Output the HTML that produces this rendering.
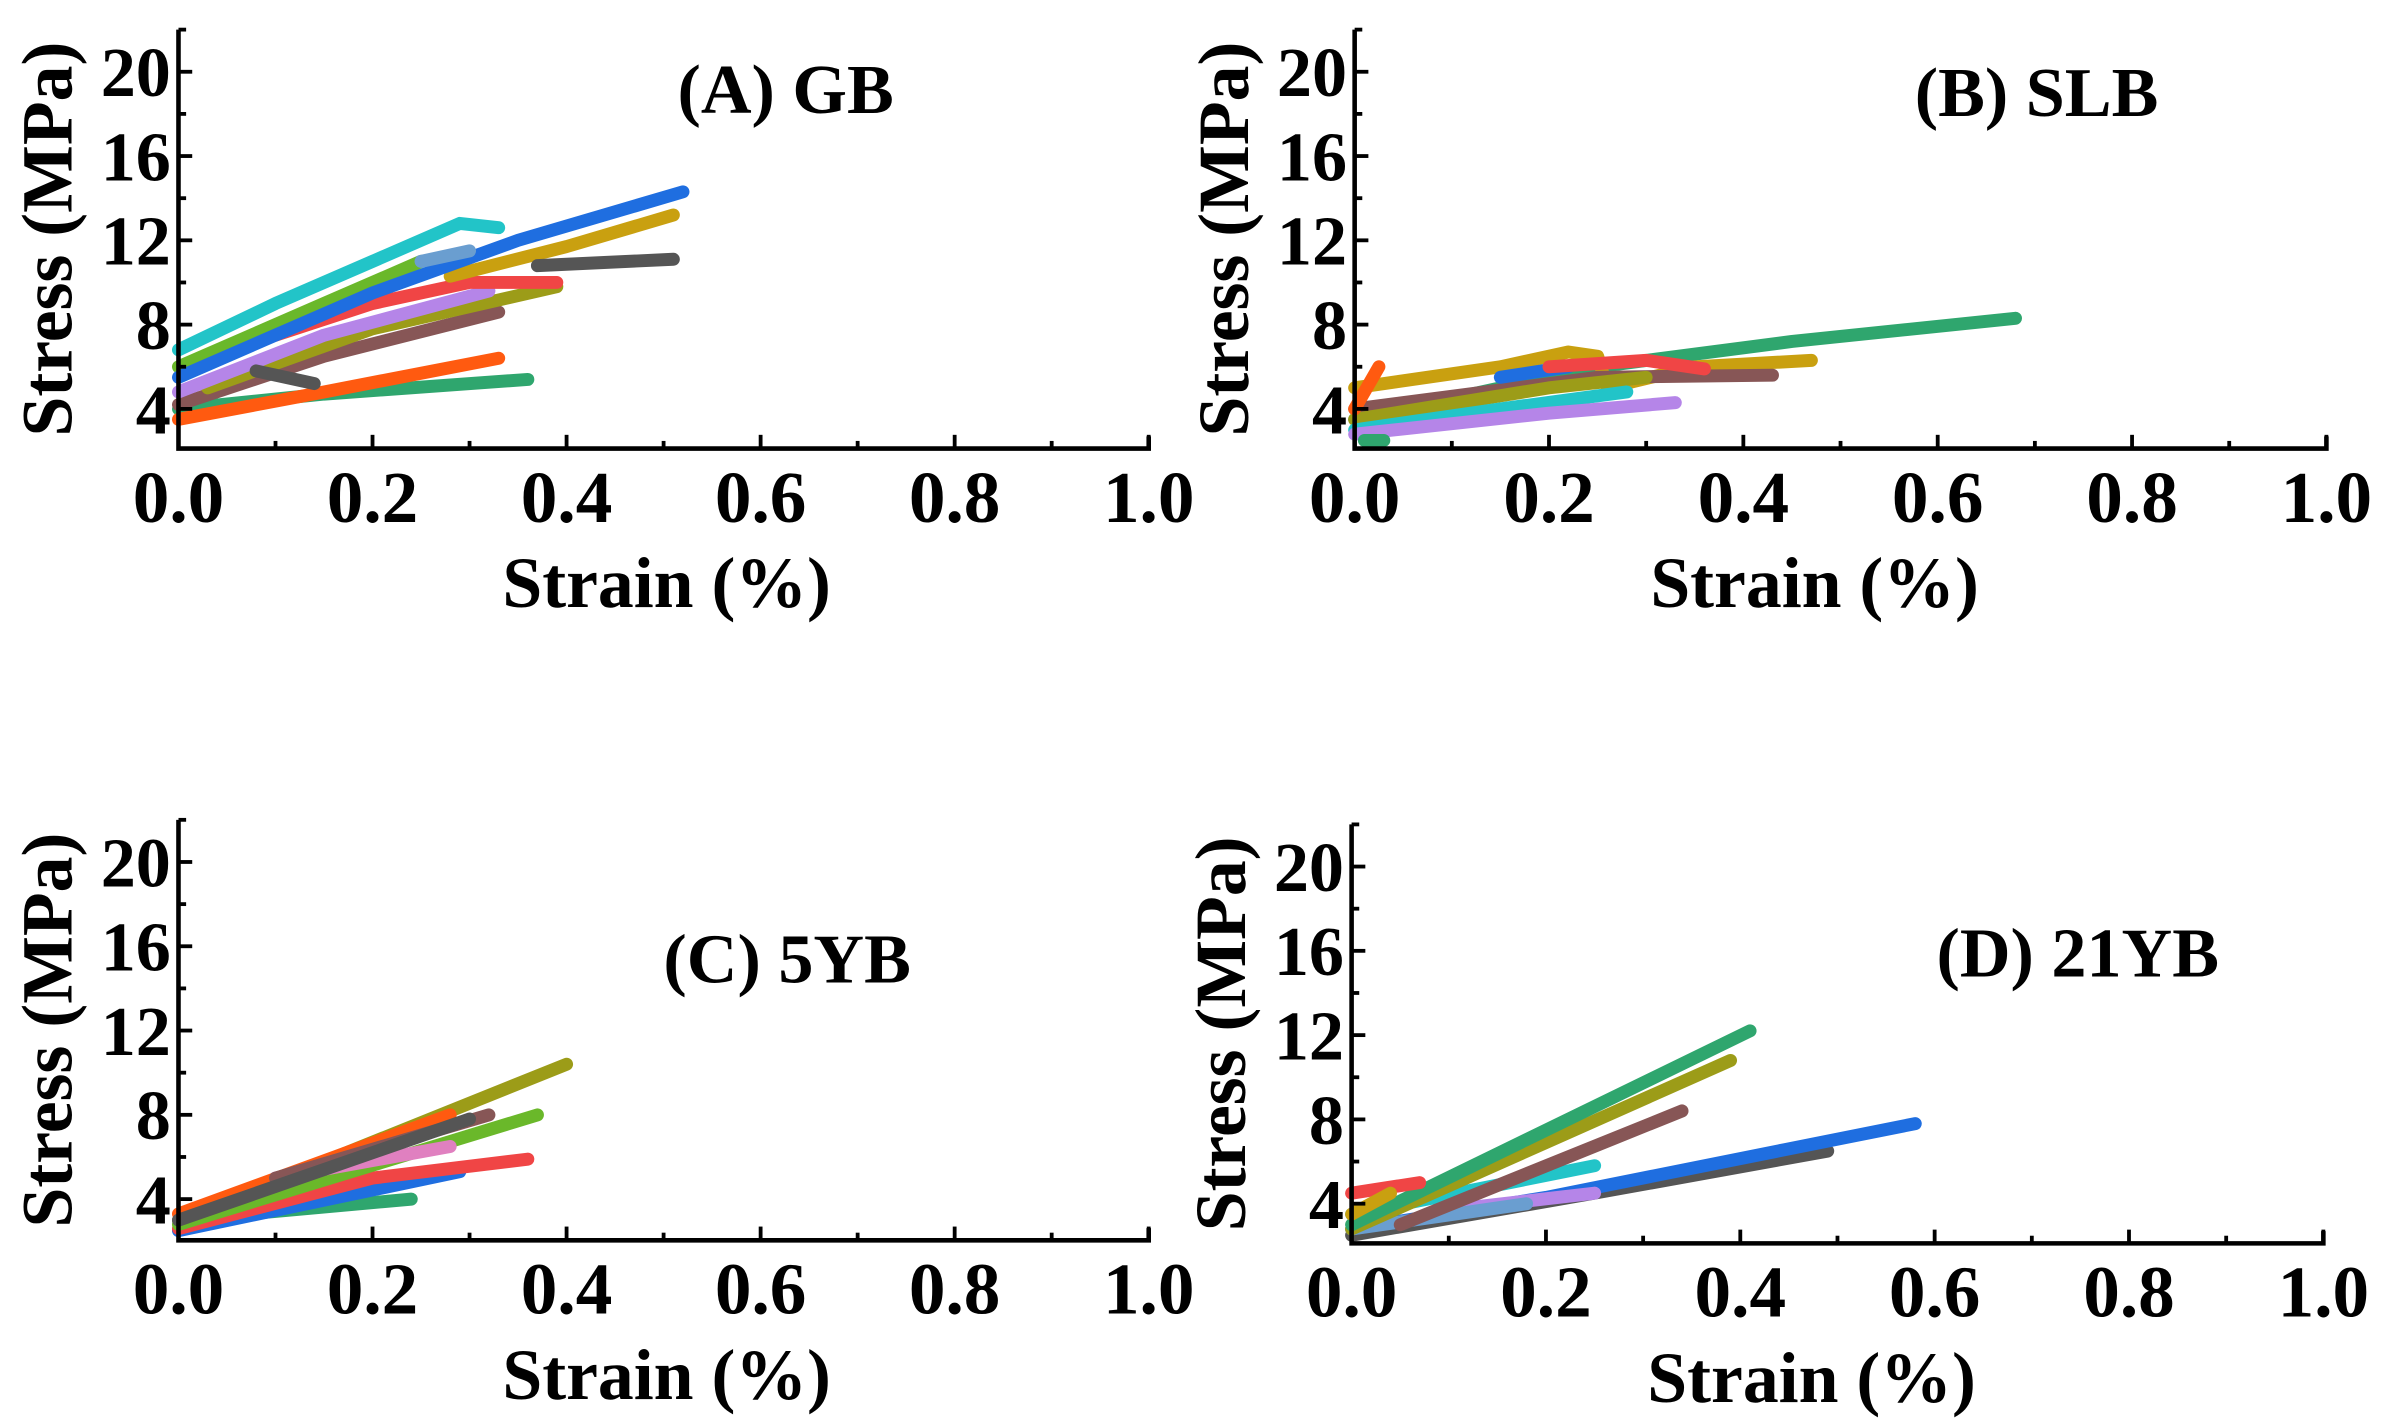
<!DOCTYPE html>
<html><head><meta charset="utf-8"><style>
html,body{margin:0;padding:0;background:#fff;}
svg{display:block;}
text{font-family:"Liberation Serif",serif;font-weight:bold;fill:#000;}
</style></head><body>
<svg id="fig" width="2392" height="1428" viewBox="0 0 1568 936" xmlns="http://www.w3.org/2000/svg"></svg>
<script>
const xTicks = [0.0, 0.2, 0.4, 0.6, 0.8, 1.0];
const xTickLabels = ["0.0", "0.2", "0.4", "0.6", "0.8", "1.0"];
const yTicks = [4, 8, 12, 16, 20];
const yTickLabels = ["4", "8", "12", "16", "20"];
const panelTitles = ["(A) GB", "(B) SLB", "(C) 5YB", "(D) 21YB"];
const seriesColors = {cyan:"#22c4c8", lime:"#6ab82a", blue:"#1f6ee0", lblue:"#6a9ed0", gold:"#c9a010", gray:"#555555", red:"#f04545", purple:"#b585e8", olive:"#9c9c18", brown:"#875656", orange:"#ff5a10", sea:"#2fa66e", pink:"#e080c0"};

const seriesA = [
 ["sea",[[0,4],[0.15,4.7],[0.36,5.4]]],
 ["orange",[[0,3.5],[0.15,4.8],[0.33,6.4]]],
 ["brown",[[0,4.2],[0.15,6.5],[0.33,8.6]]],
 ["olive",[[0.03,5],[0.2,7.8],[0.39,9.8]]],
 ["purple",[[0,4.8],[0.15,7.5],[0.32,9.6]]],
 ["red",[[0.1,7.5],[0.2,9],[0.3,10],[0.39,10]]],
 ["gray",[[0.08,5.8],[0.14,5.2]]],
 ["gold",[[0.28,10.3],[0.4,11.7],[0.51,13.2]]],
 ["gray",[[0.37,10.8],[0.51,11.1]]],
 ["lime",[[0,6],[0.15,9],[0.25,11]]],
 ["cyan",[[0,6.8],[0.1,9],[0.2,11],[0.29,12.8],[0.33,12.6]]],
 ["blue",[[0,5.5],[0.2,9.5],[0.35,12],[0.52,14.3]]],
 ["lblue",[[0.25,11],[0.3,11.5]]]
];
const seriesB = [
 ["sea",[[0,3.5],[0.25,6],[0.45,7.2],[0.68,8.3]]],
 ["gold",[[0,5],[0.15,6],[0.22,6.7],[0.25,6.5],[0.26,5],[0.35,6],[0.47,6.3]]],
 ["brown",[[0,4],[0.25,5.5],[0.43,5.6]]],
 ["olive",[[0,3.5],[0.2,5],[0.3,5.5]]],
 ["blue",[[0.15,5.5],[0.22,6]]],
 ["red",[[0.2,6],[0.3,6.3],[0.36,5.9]]],
 ["cyan",[[0,3],[0.15,4],[0.28,4.8]]],
 ["purple",[[0,2.8],[0.2,3.8],[0.33,4.3]]],
 ["orange",[[0,4],[0.025,6]]],
 ["sea",[[0.01,2.5],[0.03,2.5]]]
];
const seriesC = [
 ["sea",[[0,3],[0.24,4]]],
 ["blue",[[0,2.5],[0.29,5.3]]],
 ["red",[[0,2.6],[0.2,5],[0.36,5.9]]],
 ["olive",[[0,3],[0.4,10.4]]],
 ["lime",[[0,2.8],[0.37,8]]],
 ["pink",[[0.1,5],[0.28,6.5]]],
 ["orange",[[0,3.3],[0.28,8]]],
 ["brown",[[0.1,5],[0.32,8]]],
 ["gray",[[0,3],[0.3,7.8]]]
];
const seriesD = [
 ["gray",[[0,2.5],[0.25,4.5],[0.49,6.5]]],
 ["blue",[[0,2.8],[0.2,4.3],[0.58,7.8]]],
 ["purple",[[0.1,3.7],[0.25,4.5]]],
 ["lblue",[[0,2.8],[0.18,4]]],
 ["cyan",[[0,3.5],[0.25,5.8]]],
 ["brown",[[0.05,3],[0.34,8.4]]],
 ["olive",[[0,2.8],[0.39,10.8]]],
 ["sea",[[0,3],[0.41,12.2]]],
 ["red",[[0,4.5],[0.07,5]]],
 ["gold",[[0,3.5],[0.04,4.5]]]
];

const NS="http://www.w3.org/2000/svg";
const svg=document.getElementById('fig');
function mk(tag,attrs,parent){const e=document.createElementNS(NS,tag);for(const k in attrs)e.setAttribute(k,attrs[k]);parent.appendChild(e);return e;}

const panels=[
 {x0:117,x1:753,yb:294,y20:47,y4:268,ttl:[515,74],series:seriesA,name:"panel-a"},
 {x0:888,x1:1525,yb:294,y20:47,y4:268,ttl:[1335,76],series:seriesB,name:"panel-b"},
 {x0:117,x1:753,yb:813,y20:565,y4:786,ttl:[516,644],series:seriesC,name:"panel-c"},
 {x0:886,x1:1523,yb:815,y20:568,y4:789,ttl:[1362,640],series:seriesD,name:"panel-d"}
];
panels.forEach((p,i)=>{
 const g=mk('g',{},svg);
 
 
 const sx=v=>p.x0+(p.x1-p.x0)*v;
 const sy=v=>p.y4+(p.y20-p.y4)*(v-4)/16;
 const ytop=sy(22);
 p.series.forEach((s,j)=>{
  const d=s[1].map((pt,k)=>(k?'L':'M')+sx(pt[0]).toFixed(1)+' '+sy(pt[1]).toFixed(1)).join(' ');
  const path=mk('path',{d:d,fill:'none',stroke:seriesColors[s[0]],'stroke-width':8.5,'stroke-linecap':'round','stroke-linejoin':'round'},g);
  
  
 });
 const ax=mk('path',{d:`M${p.x0} ${ytop} L${p.x0} ${p.yb} L${p.x1} ${p.yb} L${p.x1} ${p.yb-8}`,fill:'none',stroke:'#000','stroke-width':3},g);
 
 
 for(let k=0;k<=10;k++){
  const v=k/10, major=k%2===0;
  mk('line',{x1:sx(v),x2:sx(v),y1:p.yb,y2:p.yb-(major?9:5),stroke:'#000','stroke-width':2.5},g);
 }
 xTicks.forEach((v,k)=>{
  const t=mk('text',{x:sx(v),y:p.yb+48,'text-anchor':'middle','font-size':48},g);
  t.textContent=xTickLabels[k];
  
  
 });
 for(let v=4;v<=22;v+=2){
  const major=v%4===0;
  mk('line',{x1:p.x0,x2:p.x0+(major?9:5),y1:sy(v),y2:sy(v),stroke:'#000','stroke-width':2.5},g);
 }
 yTicks.forEach((v,k)=>{
  const t=mk('text',{x:p.x0-5,y:sy(v)+16,'text-anchor':'end','font-size':46},g);
  t.textContent=yTickLabels[k];
  
  
 });
 const xt=mk('text',{x:(p.x0+p.x1)/2+(i%2?-17:0)+ (i%2?0:2),y:p.yb+104,'text-anchor':'middle','font-size':47},g);
 xt.textContent='Strain (%)';
 
 
 const cy=(ytop+p.yb)/2;
 const yx=p.x0-70;
 const yt=mk('text',{x:yx,y:cy,'text-anchor':'middle','font-size':47,transform:`rotate(-90 ${yx} ${cy})`},g);
 yt.textContent='Stress (MPa)';
 
 
 const tt=mk('text',{x:p.ttl[0],y:p.ttl[1],'text-anchor':'middle','font-size':46},g);
 tt.textContent=panelTitles[i];
 
 
});
</script>
</body></html>
